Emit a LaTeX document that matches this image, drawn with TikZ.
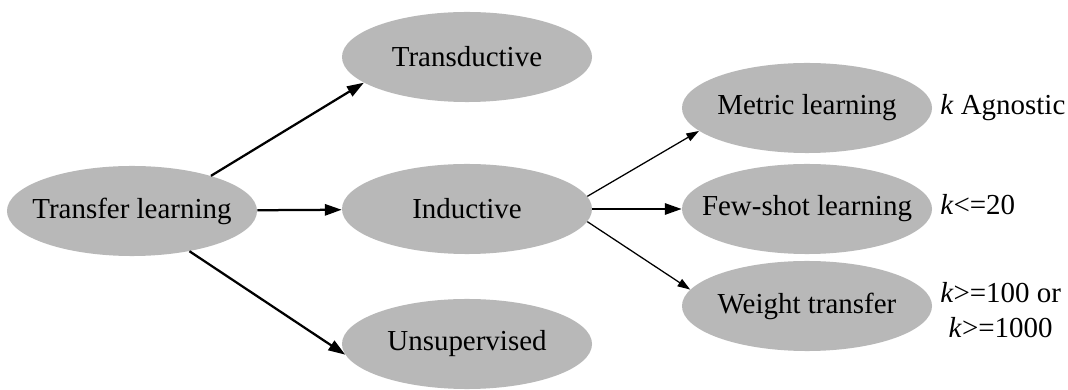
\documentclass[tikz,border=0pt]{standalone}
\usepackage{fontspec}
\setmainfont{Liberation Serif}
\usetikzlibrary{arrows.meta, shapes.geometric}
\definecolor{nodegray}{RGB}{184,184,184}
\newcommand{\ntext}[1]{\makebox[0pt]{#1}}

\begin{document}
\begin{tikzpicture}[
          x=0.025cm, y=0.025cm,
          every node/.style={font=\rmfamily\fontsize{20.6}{25}\selectfont},
          method/.style={
              ellipse,
              fill=nodegray,
              inner sep=0pt,
              minimum width=6.25cm,
              minimum height=2.25cm
            },
          note/.style={anchor=west, align=center, inner sep=0pt},
          arr/.style={-{Triangle[length=12pt,width=8pt]}, line width=1.6pt},
          thinarr/.style={-{Triangle[length=9pt,width=6pt]}, line width=0.9pt}
        ]
        \useasboundingbox (0,0) rectangle (1068,389);

        \node[method] (tl) at (132,178) {\ntext{Transfer learning}};
        \node[method] (td) at (467,332) {\ntext{Transductive}};
        \node[method] (ind) at (467,180) {\ntext{Inductive}};
        \node[method] (uns) at (467,45) {\ntext{Unsupervised}};
        \node[method] (met) at (807,281) {\ntext{Metric learning}};
        \node[method] (few) at (807,180) {\ntext{Few-shot learning}};
        \node[method] (wt) at (807,83) {\ntext{Weight transfer}};

        \node[note] (kmet) at (940,281) {\textit{k} Agnostic};
        \node[note] (kfew) at (940,184) {\textit{k}<=20};
        \node[note] (kwt) at (940,79) {\textit{k}>=100 or\\\textit{k}>=1000};

        \draw[arr] (tl.24) -- (td.194);
        \draw[arr] (tl) -- (ind);
        \draw[arr] (tl.-35) -- (uns.185);

        \draw[thinarr] (ind.6) -- (met.192);
        \draw[arr] (ind) -- (few);
        \draw[thinarr] (ind.-6) -- (wt.172);
      \end{tikzpicture}
\end{document}
